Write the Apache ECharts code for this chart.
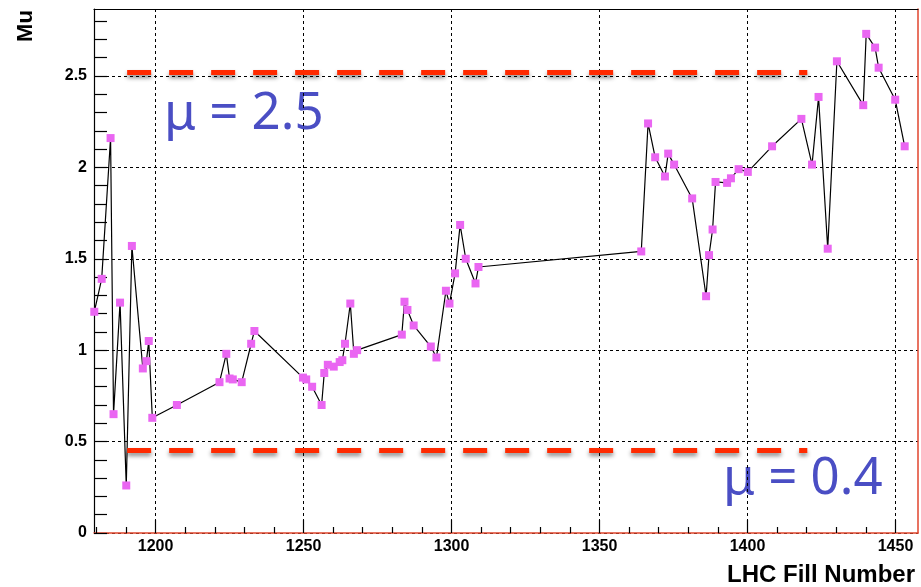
<!DOCTYPE html>
<html><head><meta charset="utf-8">
<script src="https://cdn.jsdelivr.net/npm/echarts@6/dist/echarts.min.js"></script>
<style>html,body{margin:0;padding:0;background:#fff}#c{width:921px;height:587px}</style>
</head><body><div id="c"></div>
<script>
// LHC fill numbers and measured Mu
const fills = [1179.3,1181.8,1184.8,1185.8,1188.0,1190.1,1192.0,1195.7,1196.9,1197.7,1198.9,1207.2,
  1221.6,1223.9,1225.0,1226.1,1229.1,1232.3,1233.4,1249.8,1250.9,1252.9,1256.1,1257.0,1258.2,1260.2,
  1262.2,1263.1,1264.0,1265.8,1267.0,1268.1,1283.2,1284.1,1285.1,1287.2,1293.0,1294.9,1298.1,1299.3,
  1301.2,1302.9,1304.8,1308.1,1309.1,1364.1,1366.4,1368.8,1372.1,1373.2,1375.2,1381.3,1386.0,1387.0,
  1388.2,1389.2,1393.1,1394.4,1397.0,1400.1,1408.3,1418.2,1421.8,1424.0,1427.1,1430.2,1439.1,1440.1,
  1443.1,1444.3,1449.9,1453.1];
const mu = [1.21,1.39,2.16,0.65,1.26,0.26,1.57,0.90,0.94,1.05,0.63,0.70,
  0.825,0.98,0.845,0.84,0.825,1.035,1.105,0.85,0.84,0.80,0.70,0.875,0.92,0.91,
  0.935,0.945,1.035,1.255,0.98,1.00,1.085,1.265,1.22,1.135,1.02,0.96,1.325,1.255,
  1.42,1.685,1.50,1.365,1.455,1.54,2.24,2.055,1.95,2.075,2.015,1.83,1.295,1.52,
  1.66,1.92,1.915,1.94,1.99,1.975,2.115,2.265,2.015,2.385,1.555,2.58,2.34,2.73,
  2.655,2.545,2.37,2.115];

const xMajor = [1200,1250,1300,1350,1400,1450];
const xMinor = [1180,1190,1210,1220,1230,1240,1260,1270,1280,1290,1310,1320,1330,1340,
  1360,1370,1380,1390,1410,1420,1430,1440];
const yMajor = [0,0.5,1,1.5,2,2.5];
const yMinor = [0.1,0.2,0.3,0.4,0.6,0.7,0.8,0.9,1.1,1.2,1.3,1.4,1.6,1.7,1.8,1.9,
  2.1,2.2,2.3,2.4,2.6,2.7,2.8];
const xRange = [1179.2, 1457.6];
const yRange = [0, 2.866];

// reference lines
const refLabels = ['\u03bc = 2.5', '\u03bc = 0.4'];
const refLevels = [2.52, 0.45];
const refFrom = [1190.4, 1190.4];
const refTo = [1420.2, 1420.2];

const FONT = 'Liberation Sans, Arial, Helvetica, sans-serif';
const RED = '#e0452d';
const chart = echarts.init(document.getElementById('c'), null, {renderer:'canvas'});
const data = fills.map((f,i)=>[f, mu[i]]);
const lblStyle = {fontSize:16, fontWeight:'bold', color:'#000', fontFamily:FONT, formatter:v=>String(v)};
const gridLine = {show:true, lineStyle:{color:'#000', type:[3,3], width:1}};

chart.setOption({
  animation:false,
  grid:{left:94, top:9, width:824, height:524, show:false},
  xAxis:[
    {type:'value', min:xRange[0], max:xRange[1], position:'bottom',
     axisLine:{show:true, onZero:false, lineStyle:{color:RED, width:1.5}},
     axisTick:{show:true, inside:true, length:13, customValues:xMajor, lineStyle:{color:'#000', width:1.2}},
     axisLabel:{customValues:xMajor, margin:6, ...lblStyle},
     splitLine:gridLine},
    {type:'value', min:xRange[0], max:xRange[1], position:'bottom',
     axisLine:{show:false, onZero:false},
     axisTick:{show:true, inside:true, length:6, customValues:xMinor, lineStyle:{color:'#000', width:1.2}},
     axisLabel:{show:false}, splitLine:{show:false}},
    {type:'value', min:xRange[0], max:xRange[1], position:'top',
     axisLine:{show:true, onZero:false, lineStyle:{color:'#000', width:1.2}},
     axisTick:{show:false}, axisLabel:{show:false}, splitLine:{show:false}}
  ],
  yAxis:[
    {type:'value', min:yRange[0], max:yRange[1], position:'left',
     axisLine:{show:true, onZero:false, lineStyle:{color:'#000', width:1.2}},
     axisTick:{show:true, inside:true, length:13, customValues:yMajor, lineStyle:{color:'#000', width:1.2}},
     axisLabel:{customValues:yMajor, margin:7, ...lblStyle},
     splitLine:gridLine},
    {type:'value', min:yRange[0], max:yRange[1], position:'left',
     axisLine:{show:false, onZero:false},
     axisTick:{show:true, inside:true, length:13, customValues:yMinor, lineStyle:{color:'#000', width:1.2}},
     axisLabel:{show:false}, splitLine:{show:false}},
    {type:'value', min:yRange[0], max:yRange[1], position:'right',
     axisLine:{show:true, onZero:false, lineStyle:{color:RED, width:1.5}},
     axisTick:{show:false}, axisLabel:{show:false}, splitLine:{show:false}}
  ],
  series:[{
    type:'line', xAxisIndex:0, yAxisIndex:0, data:data,
    symbol:'rect', symbolSize:8, showAllSymbol:true,
    itemStyle:{color:'#ea66f2'},
    lineStyle:{color:'#000', width:1.2},
    z:3,
    markLine:{
      silent:true, symbol:['none','none'], label:{show:false}, z:5,
      lineStyle:{color:'#ff2a00', width:5, type:[24,18], cap:'butt',
        shadowBlur:4, shadowColor:'rgba(0,0,0,0.45)', shadowOffsetY:3},
      data: refLevels.map((lv,i)=>[{coord:[refFrom[i], lv]}, {coord:[refTo[i], lv]}])
    }
  }],
  graphic:[
    {type:'text', x:26, y:26, rotation:Math.PI/2,
     style:{text:'Mu', font:'bold 22px '+FONT, fill:'#000', align:'center', verticalAlign:'middle'}},
    {type:'text', x:915, y:575,
     style:{text:'LHC Fill Number', font:'bold 24px '+FONT, fill:'#000', align:'right', verticalAlign:'middle'}},
    {type:'text', x:164, y:114,
     style:{text:refLabels[0], font:'51px "Noto Sans"', fill:'#4a4ec4', align:'left', verticalAlign:'middle'}},
    {type:'text', x:723, y:479,
     style:{text:refLabels[1], font:'51px "Noto Sans"', fill:'#4a4ec4', align:'left', verticalAlign:'middle'}}
  ]
});
</script></body></html>
